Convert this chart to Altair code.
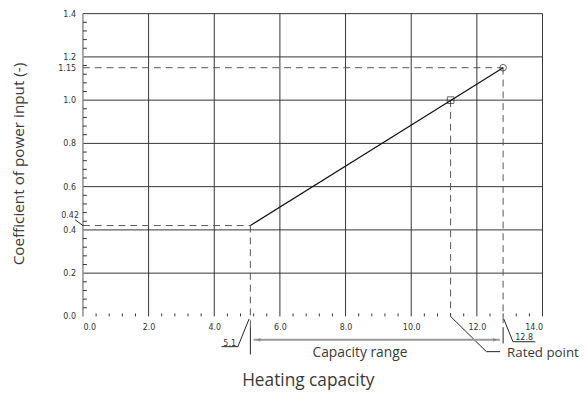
import altair as alt
import pandas as pd

# ---- data ----
x_label_vals = [0, 2, 4, 6, 8, 10, 12, 14]
y_label_vals = [0.0, 0.2, 0.4, 0.6, 0.8, 1.0, 1.15, 1.2, 1.4]
x_grid = [2, 4, 6, 8, 10, 12, 14]
y_grid = [0.2, 0.4, 0.6, 0.8, 1.0, 1.2, 1.4]
x_minor = [k * 0.4 for k in range(1, 35) if k % 5 != 0]
y_minor = [k * 0.04 for k in range(1, 35) if k % 5 != 0]

line_x = [5.1, 12.8]          # capacity range ends
line_y = [0.42, 1.15]         # coefficient at ends
rated_x = [11.2]
rated_y = [1.0]

labels_text = ["Capacity range", "Rated point"]
x_title = "Heating capacity"
y_title = "Coefficient of power input (-)"

W, H = 466, 307
PAD = {"left": 76, "top": 3, "right": 37, "bottom": 79}
LBL_FONT = "DejaVu Sans Condensed"
TXT_FONT = "Open Sans"
INK = "#333333"

xs = alt.Scale(domain=[0, 14], nice=False, zero=False)
ys = alt.Scale(domain=[0, 1.4], nice=False, zero=False)

# vertical grid (with x axis)
vgrid = alt.Chart(pd.DataFrame({"x": x_grid})).mark_rule(color=INK, strokeWidth=1).encode(
    x=alt.X("x:Q", scale=xs, axis=alt.Axis(
        values=x_label_vals, format=".1f", grid=False, domain=False, ticks=False,
        labelFont=LBL_FONT, labelFontSize=9, labelColor=INK, labelPadding=6, labelOverlap=False,
        title=x_title, titleFont=TXT_FONT, titleFontSize=17.5, titleFontWeight="normal",
        titleColor="#3a3a3a", titleX=228, titleY=65, titleBaseline="middle", titleAlign="center")),
    y=alt.value(0), y2=alt.value(H),
)

# left border (gray)
left_line = alt.Chart(pd.DataFrame({"x": [0]})).mark_rule(color="#8c8c8c", strokeWidth=1.5).encode(
    x=alt.X("x:Q", scale=xs), y=alt.value(0), y2=alt.value(H))

# horizontal grid (with y axis title; labels drawn as text below)
hgrid = alt.Chart(pd.DataFrame({"y": y_grid})).mark_rule(color=INK, strokeWidth=1).encode(
    y=alt.Y("y:Q", scale=ys, axis=alt.Axis(
        values=y_label_vals, grid=False, domain=False, ticks=False, labels=False,
        title=y_title, titleFont=TXT_FONT, titleFontSize=15.5, titleFontWeight="normal",
        titleColor="#3a3a3a", titleX=-65, titleY=152, titleBaseline="middle", titleAlign="center",
        titleAngle=270)),
    x=alt.value(0), x2=alt.value(W),
)

ylab_df = pd.DataFrame({
    "y": y_label_vals,
    "t": [f"{v:.2f}" if round(v * 100) % 10 else f"{v:.1f}" for v in y_label_vals],
})
ylabels = alt.Chart(ylab_df).mark_text(
    font=LBL_FONT, fontSize=9, color=INK, align="right", baseline="middle", dx=-7).encode(
    y=alt.Y("y:Q", scale=ys), x=alt.value(0), text="t:N")

# minor ticks
xminor = alt.Chart(pd.DataFrame({"x": x_minor})).mark_rule(color=INK, strokeWidth=1).encode(
    x=alt.X("x:Q", scale=xs), y=alt.value(H - 3), y2=alt.value(H))
yminor = alt.Chart(pd.DataFrame({"y": y_minor})).mark_rule(color=INK, strokeWidth=1).encode(
    y=alt.Y("y:Q", scale=ys), x=alt.value(0), x2=alt.value(4))

# main line
main = alt.Chart(pd.DataFrame({"x": line_x, "y": line_y})).mark_line(color="#111", strokeWidth=1.2).encode(
    x=alt.X("x:Q", scale=xs), y=alt.Y("y:Q", scale=ys))

# dashed guide lines
dash_df = pd.DataFrame({
    "x": [0, 0, line_x[0], rated_x[0], line_x[1]],
    "y": [line_y[1], line_y[0], line_y[0], rated_y[0], line_y[1]],
    "x2": [line_x[1], line_x[0], line_x[0], rated_x[0], line_x[1]],
    "y2": [line_y[1], line_y[0], -0.05, 0, -0.05],
})
dashed = alt.Chart(dash_df).mark_rule(color="#555", strokeWidth=1, strokeDash=[7, 5]).encode(
    x=alt.X("x:Q", scale=xs), y=alt.Y("y:Q", scale=ys), x2="x2:Q", y2="y2:Q")

# solid leader / extension lines
lead_df = pd.DataFrame({
    "x":  [line_x[0], line_x[1], -0.24, 4.22, 4.72, 13.10, 13.10, rated_x[0], 12.29],
    "y":  [-0.05, -0.05, 0.447, -0.14, -0.14, -0.117, -0.117, 0.0, -0.163],
    "x2": [line_x[0], line_x[1], 0.0, 4.72, 5.06, 13.78, 12.82, 12.29, 12.71],
    "y2": [-0.176, -0.125, 0.42, -0.14, -0.012, -0.117, -0.012, -0.163, -0.163],
})
leaders = alt.Chart(lead_df).mark_rule(color="#222", strokeWidth=1).encode(
    x=alt.X("x:Q", scale=xs), y=alt.Y("y:Q", scale=ys), x2="x2:Q", y2="y2:Q")

# capacity range arrow
arrow = alt.Chart(pd.DataFrame({"x": [line_x[0] + 0.1], "x2": [line_x[1] - 0.1], "y": [-0.108]})).mark_rule(
    color="#9a9a9a", strokeWidth=2).encode(
    x=alt.X("x:Q", scale=xs), x2="x2:Q", y=alt.Y("y:Q", scale=ys))
heads = alt.Chart(pd.DataFrame({"x": [line_x[0] + 0.25, line_x[1] - 0.25], "y": [-0.108, -0.108],
                                "s": ["triangle-left", "triangle-right"]})).mark_point(
    filled=True, color="#777", size=18).encode(
    x=alt.X("x:Q", scale=xs), y=alt.Y("y:Q", scale=ys),
    shape=alt.Shape("s:N", scale=None, legend=None))

# markers
rated = alt.Chart(pd.DataFrame({"x": rated_x, "y": rated_y})).mark_point(
    shape="square", filled=False, color="#222", size=45, strokeWidth=1).encode(
    x=alt.X("x:Q", scale=xs), y=alt.Y("y:Q", scale=ys))
maxp = alt.Chart(pd.DataFrame({"x": [line_x[1]], "y": [line_y[1]]})).mark_point(
    shape="circle", filled=False, color="#222", size=45, strokeWidth=1).encode(
    x=alt.X("x:Q", scale=xs), y=alt.Y("y:Q", scale=ys))

# small value labels (drawing font)
small_df = pd.DataFrame({
    "x": [-0.12, 4.47, 13.44],
    "y": [0.467, -0.124, -0.094],
    "t": [f"{line_y[0]:.2f}", f"{line_x[0]:.1f}", f"{line_x[1]:.1f}"],
})
small_right = alt.Chart(small_df.iloc[[0]]).mark_text(
    font=LBL_FONT, fontSize=9, color=INK, align="right", baseline="middle").encode(
    x=alt.X("x:Q", scale=xs), y=alt.Y("y:Q", scale=ys), text="t:N")
small_center = alt.Chart(small_df.iloc[[1, 2]]).mark_text(
    font=LBL_FONT, fontSize=9, color=INK, align="center", baseline="middle").encode(
    x=alt.X("x:Q", scale=xs), y=alt.Y("y:Q", scale=ys), text="t:N")

# annotation texts
ann_cap = alt.Chart(pd.DataFrame({"x": [8.44], "y": [-0.17], "t": [labels_text[0]]})).mark_text(
    font=TXT_FONT, fontSize=14, color="#3a3a3a", align="center", baseline="middle").encode(
    x=alt.X("x:Q", scale=xs), y=alt.Y("y:Q", scale=ys), text="t:N")
ann_rated = alt.Chart(pd.DataFrame({"x": [12.92], "y": [-0.17], "t": [labels_text[1]]})).mark_text(
    font=TXT_FONT, fontSize=13.5, color="#3a3a3a", align="left", baseline="middle").encode(
    x=alt.X("x:Q", scale=xs), y=alt.Y("y:Q", scale=ys), text="t:N")

chart = alt.layer(
    vgrid, hgrid, left_line, xminor, yminor, ylabels, dashed, leaders, arrow, heads,
    main, rated, maxp, small_right, small_center, ann_cap, ann_rated,
).properties(
    width=W, height=H,
    autosize=alt.AutoSizeParams(type="none"),
    padding=PAD,
    background="white",
).configure_view(stroke=None)

chart.save("out.html", embed_options={"renderer": "svg", "actions": False})
